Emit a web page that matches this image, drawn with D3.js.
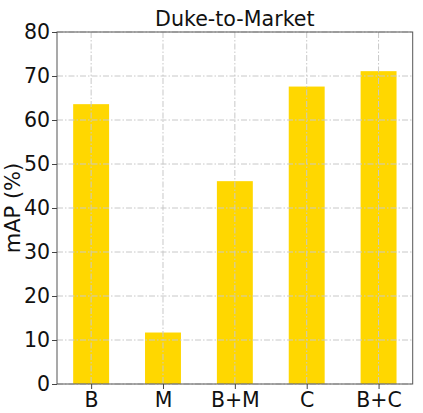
<!DOCTYPE html>
<html><head><meta charset="utf-8">
<script src="https://cdn.jsdelivr.net/npm/d3@7"></script>
<style>body{margin:0;background:#fff;} svg{display:block;}</style>
</head><body>
<svg id="c" width="423" height="413"></svg>
<script>
const categories = ["B", "M", "B+M", "C", "B+C"];
const values = [63.6, 11.7, 46.1, 67.6, 71.1];
const yTicks = [0, 10, 20, 30, 40, 50, 60, 70, 80];
const title = "Duke-to-Market";
const yLabel = "mAP (%)";

const W = 423, H = 413;
const m = {left: 57, right: 10.3, top: 32, bottom: 29};
const pw = W - m.left - m.right, ph = H - m.top - m.bottom;
const svg = d3.select("#c");
const g = svg.append("g").attr("transform", `translate(${m.left},${m.top})`);
const font = "DejaVu Sans, sans-serif";

const x = d3.scaleLinear().domain([-0.475, categories.length - 1 + 0.475]).range([0, pw]);
const y = d3.scaleLinear().domain([0, 80]).range([ph, 0]);
const bw = x(0.5) - x(0);

g.selectAll("rect.bar").data(values).join("rect").attr("class", "bar")
  .attr("x", (d, i) => x(i) - bw / 2).attr("width", bw)
  .attr("y", d => y(d)).attr("height", d => y(0) - y(d))
  .attr("fill", "#FFD700");

// grid
const grid = g.append("g");
grid.selectAll("line.h").data(yTicks).join("line")
  .attr("x1", 0).attr("x2", pw).attr("y1", d => y(d)).attr("y2", d => y(d))
  .attr("stroke", "#c8c8c8").attr("stroke-width", 1).attr("stroke-dasharray", "6,2,1.5,2");
grid.selectAll("line.v").data(categories).join("line")
  .attr("y1", 0).attr("y2", ph).attr("x1", (d, i) => x(i)).attr("x2", (d, i) => x(i))
  .attr("stroke", "#c8c8c8").attr("stroke-width", 1).attr("stroke-dasharray", "6,2,1.5,2");

// frame
g.append("rect").attr("x", 0).attr("y", 0).attr("width", pw).attr("height", ph)
  .attr("fill", "none").attr("stroke", "#555").attr("stroke-width", 1);

const yAxis = d3.axisLeft(y).tickValues(yTicks).tickSize(5).tickPadding(2);
const ya = g.append("g").call(yAxis);
ya.select(".domain").remove();
ya.selectAll(".tick line").attr("stroke", "#444");
ya.selectAll("text").attr("font-family", font).attr("font-size", 20.5).attr("fill", "#111");

const xAxis = d3.axisBottom(x).tickValues(d3.range(categories.length))
  .tickFormat(i => categories[i]).tickSize(5).tickPadding(3);
const xa = g.append("g").attr("transform", `translate(0,${ph})`).call(xAxis);
xa.select(".domain").remove();
xa.selectAll(".tick line").attr("stroke", "#444");
xa.selectAll("text").attr("font-family", font).attr("font-size", 20.5).attr("fill", "#111");

svg.append("text").attr("x", m.left + pw / 2).attr("y", 26)
  .attr("text-anchor", "middle").attr("font-family", font).attr("font-size", 20.6)
  .attr("fill", "#111").text(title);

svg.append("text").attr("transform", `translate(19.5,${m.top + ph / 2}) rotate(-90)`)
  .attr("text-anchor", "middle").attr("font-family", font).attr("font-size", 21)
  .attr("fill", "#111").text(yLabel);
</script>
</body></html>
